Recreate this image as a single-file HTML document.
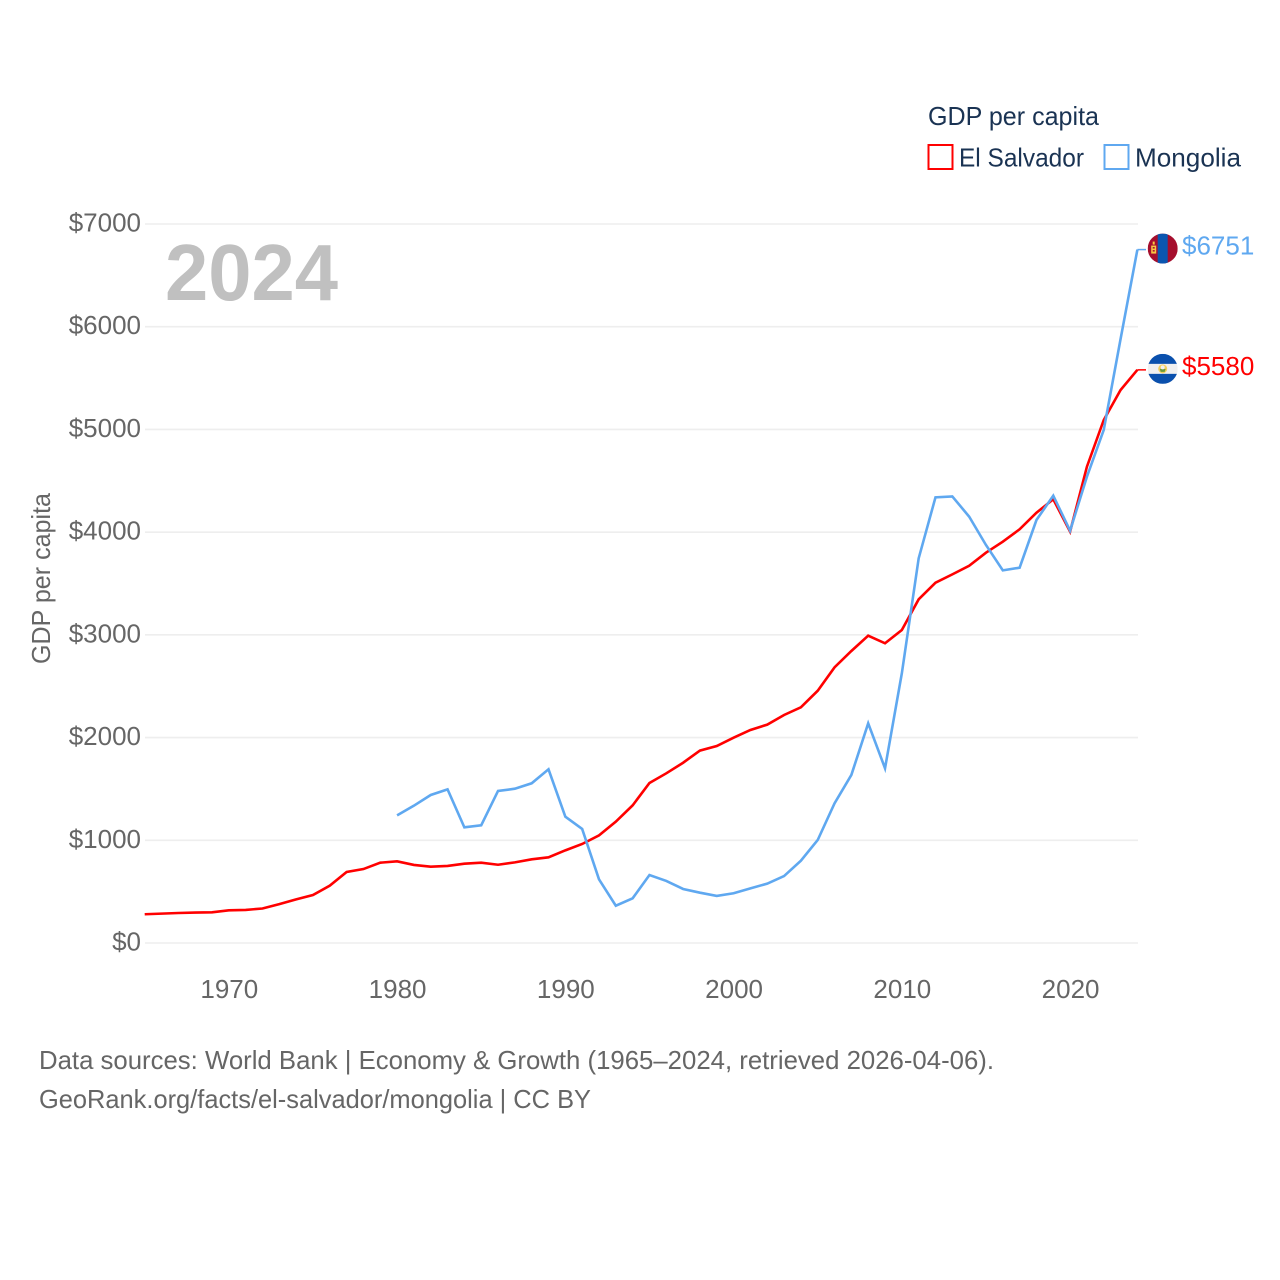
<!DOCTYPE html>
<html lang="en">
<head>
<meta charset="utf-8">
<title>GDP per capita: El Salvador and Mongolia</title>
<style>
  html, body { margin: 0; padding: 0; background: #fff; }
  svg { display: block; }
  text { font-family: "Liberation Sans", sans-serif; }
</style>
</head>
<body>
<svg id="chart" xmlns="http://www.w3.org/2000/svg" width="1280" height="1280" viewBox="0 0 1280 1280">
  <defs>
    <clipPath id="flag-clip-mn"><circle cx="0" cy="0" r="15"></circle></clipPath>
    <clipPath id="flag-clip-sv"><circle cx="0" cy="0" r="15"></circle></clipPath>
  </defs>
  <rect x="0" y="0" width="1280" height="1280" fill="#ffffff"></rect>

  <g id="grid"></g>
  <g id="y-ticks"></g>
  <g id="x-ticks"></g>

  <text transform="translate(50,664) rotate(-90)" font-size="26" fill="#666666" textLength="171" lengthAdjust="spacingAndGlyphs">GDP per capita</text>
  <text x="165" y="300" font-size="80" font-weight="700" fill="#c0c0c0" textLength="173" lengthAdjust="spacingAndGlyphs">2024</text>

  <g id="series"></g>

  <g id="flag-mn">
    <g clip-path="url(#flag-clip-mn)">
      <rect x="-15" y="-15" width="30" height="30" fill="#a50e2d"></rect>
      <rect x="-5" y="-15" width="10" height="30" fill="#0a56b0"></rect>
      <rect x="-11.5" y="-3" width="5" height="8" fill="#f7c843"></rect>
      <rect x="-10" y="-7" width="2" height="3" fill="#f7c843"></rect>
      <rect x="-10" y="-1.5" width="2" height="1.5" fill="#a50e2d"></rect>
      <rect x="-10" y="1.5" width="2" height="1.5" fill="#a50e2d"></rect>
    </g>
  </g>
  <g id="flag-sv">
    <g clip-path="url(#flag-clip-sv)">
      <rect x="-15" y="-15" width="30" height="30" fill="#f0f0f0"></rect>
      <rect x="-15" y="-15" width="30" height="10" fill="#0a50ad"></rect>
      <rect x="-15" y="5" width="30" height="10" fill="#0a50ad"></rect>
      <circle cx="0" cy="0" r="4.5" fill="#f4cf5c"></circle>
      <path d="M-3,0 L3,0 L2,3 L-2,3 Z" fill="#6b9a3a"></path>
      <circle cx="0" cy="-1.5" r="2" fill="#f0f0f0"></circle>
    </g>
  </g>

  <g id="end-labels"></g>

  <g>
    <text x="928" y="125" font-size="26" fill="#1a3353" textLength="171" lengthAdjust="spacingAndGlyphs">GDP per capita</text>
    <g>
      <rect x="928.5" y="145" width="24" height="24" fill="none" stroke="#ff0000" stroke-width="2"></rect>
      <text x="959" y="166.5" font-size="26" fill="#1a3353" textLength="125" lengthAdjust="spacingAndGlyphs">El Salvador</text>
    </g>
    <g>
      <rect x="1104.5" y="145" width="24" height="24" fill="none" stroke="#5fa8f0" stroke-width="2"></rect>
      <text x="1135" y="166.5" font-size="26" fill="#1a3353" textLength="106" lengthAdjust="spacingAndGlyphs">Mongolia</text>
    </g>
  </g>

  <text x="39" y="1069" font-size="26" fill="#666666" textLength="955" lengthAdjust="spacingAndGlyphs">Data sources: World Bank | Economy &amp; Growth (1965–2024, retrieved 2026-04-06).</text>
  <text x="39" y="1108" font-size="26" fill="#666666" textLength="552" lengthAdjust="spacingAndGlyphs">GeoRank.org/facts/el-salvador/mongolia | CC BY</text>
</svg>

<script>
const yearsStart = 1965;
const yearsEnd = 2024;
const yTickValues = [0, 1000, 2000, 3000, 4000, 5000, 6000, 7000];
const xTickYears = [1970, 1980, 1990, 2000, 2010, 2020];
const elSalvadorStartYear = 1965;
const elSalvadorValues = [
  280, 286, 292, 296, 299, 318, 322, 336, 378, 425,
  467, 558, 691, 720, 782, 795, 760, 743, 750, 772,
  782, 762, 785, 815, 834, 902, 964, 1048, 1181, 1340,
  1558, 1652, 1755, 1873, 1918, 1999, 2074, 2126, 2220, 2295,
  2456, 2684, 2843, 2992, 2918, 3047, 3346, 3508, 3589, 3673,
  3800, 3907, 4028, 4189, 4320, 4005, 4637, 5092, 5384, 5580
];
const mongoliaStartYear = 1980;
const mongoliaValues = [
  1243, 1337, 1441, 1496, 1126, 1146, 1480, 1502, 1555, 1691,
  1230, 1110, 620, 363, 435, 662, 604, 526, 490, 458,
  484, 532, 578, 652, 801, 1003, 1360, 1636, 2139, 1701,
  2626, 3745, 4339, 4348, 4151, 3875, 3628, 3654, 4118, 4355,
  4014, 4540, 4995, 5880, 6751
];

const NS = 'http://www.w3.org/2000/svg';
function xScale(year) {
  return 144.7 + (year - yearsStart) * (1137.4 - 144.7) / (yearsEnd - yearsStart);
}
function yScale(value) {
  return 943 - value * (943 - 224) / 7000;
}
function make(tag, attrs, parent) {
  const el = document.createElementNS(NS, tag);
  for (const k in attrs) el.setAttribute(k, attrs[k]);
  parent.appendChild(el);
  return el;
}

const gridGroup = document.getElementById('grid');
const yTickGroup = document.getElementById('y-ticks');
yTickValues.forEach(function (v) {
  const line = make('line', { x1: 145, x2: 1138, y1: yScale(v), y2: yScale(v), stroke: '#eeeeee', 'stroke-width': 1.6 }, gridGroup);
  
  
  const label = make('text', { x: 141, y: yScale(v) + 7.5, 'text-anchor': 'end', 'font-size': 26, fill: '#666666' }, yTickGroup);
  
  
  label.textContent = '$' + v;
});

const xTickGroup = document.getElementById('x-ticks');
xTickYears.forEach(function (yr) {
  const label = make('text', { x: xScale(yr) + 0.5, y: 998, 'text-anchor': 'middle', 'font-size': 26, fill: '#666666' }, xTickGroup);
  
  
  label.textContent = String(yr);
});

function drawSeries(values, startYear, color, lineName, leaderName, labelName, flagId) {
  const seriesGroup = document.getElementById('series');
  const pts = values.map(function (v, i) {
    return xScale(startYear + i).toFixed(2) + ',' + yScale(v).toFixed(2);
  }).join(' ');
  const line = make('polyline', { points: pts, fill: 'none', stroke: color, 'stroke-width': 2.6, 'stroke-linejoin': 'miter' }, seriesGroup);
  
  

  const last = values[values.length - 1];
  const endY = yScale(last);
  const leader = make('line', { x1: 1137.4, x2: 1146, y1: endY, y2: endY, stroke: color, 'stroke-width': 1.5 }, seriesGroup);
  
  

  document.getElementById(flagId).setAttribute('transform', 'translate(1162.7,' + (endY - 1) + ')');

  const label = make('text', { x: 1182, y: endY + 5, 'font-size': 26, fill: color }, document.getElementById('end-labels'));
  
  
  label.textContent = '$' + last;
}

drawSeries(elSalvadorValues, elSalvadorStartYear, '#ff0000', 'el-salvador-line', 'el-salvador-leader', 'el-salvador-value-label', 'flag-sv');
drawSeries(mongoliaValues, mongoliaStartYear, '#5fa8f0', 'mongolia-line', 'mongolia-leader', 'mongolia-value-label', 'flag-mn');
</script>
</body>
</html>
